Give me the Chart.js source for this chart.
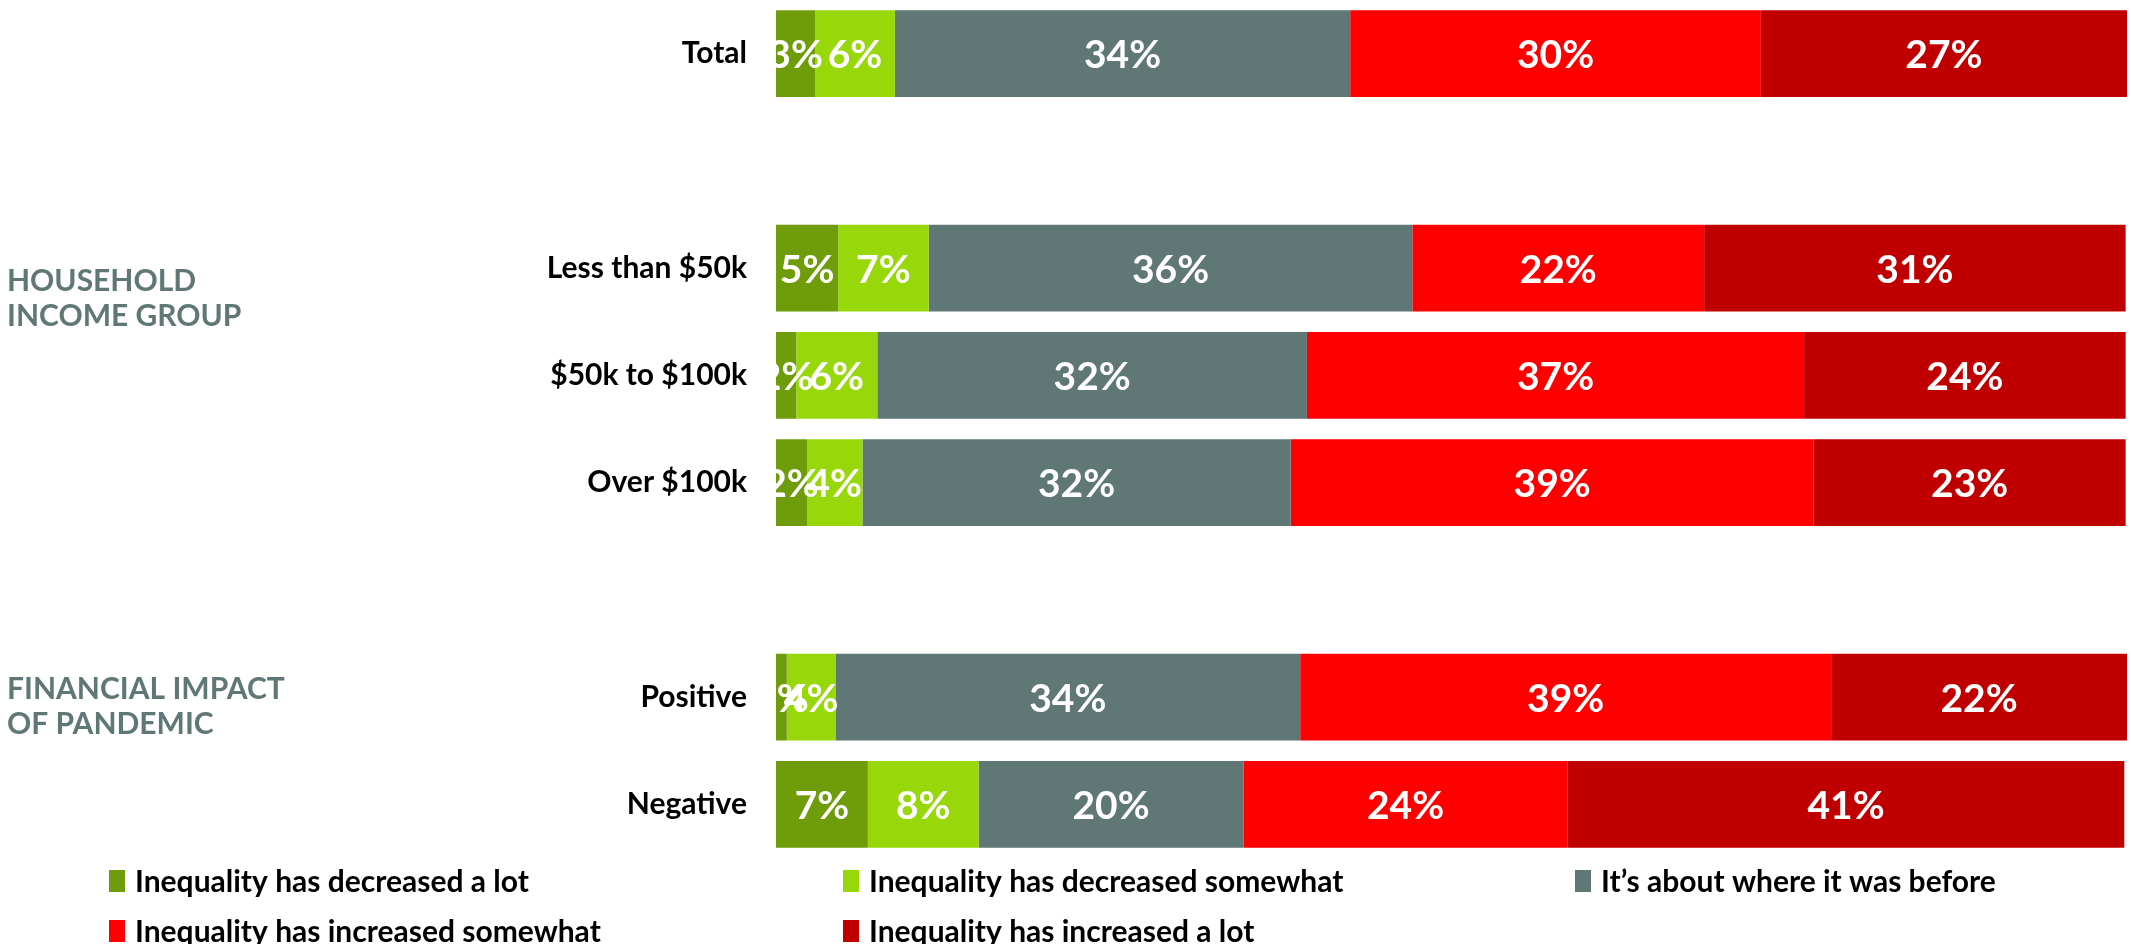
<!DOCTYPE html>
<html>
<head>
<meta charset="utf-8">
<script src="https://cdn.jsdelivr.net/npm/chart.js@4.4.1/dist/chart.umd.min.js"></script>
<style>
  html, body { margin: 0; padding: 0; background: #fff; }
  #wrap { width: 2131px; height: 944px; position: relative; }
</style>
</head>
<body>
<div id="wrap"><canvas id="chart" width="2131" height="944"></canvas></div>
<script>
// categories (blank rows separate the groups)
const categories = ['Total', '', 'Less than $50k', '$50k to $100k', 'Over $100k', '', 'Positive', 'Negative'];

// series values, percent
const decreasedLot       = [2.9, null, 4.6, 1.5, 2.3, null, 0.8, 6.8];
const decreasedSomewhat  = [5.9, null, 6.7, 6.0, 4.1, null, 3.6, 8.2];
const aboutSame          = [33.7, null, 35.8, 31.8, 31.7, null, 34.4, 19.6];
const increasedSomewhat  = [30.4, null, 21.6, 36.8, 38.7, null, 39.3, 24.0];
const increasedLot       = [27.1, null, 31.2, 23.8, 23.1, null, 21.9, 41.2];

const seriesNames = [
    'Inequality has decreased a lot',
    'Inequality has decreased somewhat',
    'It\u2019s about where it was before',
    'Inequality has increased somewhat',
    'Inequality has increased a lot'
];
const seriesColors = ['#6e9c0b', '#98d80a', '#5f7775', '#ff0000', '#c00000'];

const groupLabels = [
    { lines: ['HOUSEHOLD', 'INCOME GROUP'], y: 281 },
    { lines: ['FINANCIAL IMPACT', 'OF PANDEMIC'], y: 689 }
];

const FONT = 'Lato, "Open Sans", sans-serif';

// value labels inside the bars
const barLabels = {
    id: 'barLabels',
    afterDatasetsDraw(chart) {
        const ctx = chart.ctx;
        const area = chart.chartArea;
        ctx.save();
        ctx.beginPath();
        ctx.rect(area.left, area.top, area.right - area.left, area.bottom - area.top);
        ctx.clip();
        ctx.fillStyle = '#fff';
        ctx.font = 'bold 39px ' + FONT;
        ctx.textAlign = 'center';
        ctx.textBaseline = 'middle';
        chart.data.datasets.forEach((ds, i) => {
            chart.getDatasetMeta(i).data.forEach((bar, j) => {
                const v = ds.data[j];
                if (v == null) return;
                const cx = (bar.x + bar.base) / 2;
                ctx.fillText(Math.round(v) + '%', cx, bar.y + 2);
            });
        });
        ctx.restore();
    }
};

// group titles on the left and the legend at the bottom
const extras = {
    id: 'extras',
    afterDraw(chart) {
        const ctx = chart.ctx;
        ctx.save();
        ctx.fillStyle = '#5f7775';
        ctx.font = 'bold 30px ' + FONT;
        ctx.textAlign = 'left';
        ctx.textBaseline = 'middle';
        groupLabels.forEach(g => {
            g.lines.forEach((t, k) => ctx.fillText(t, 7, g.y + k * 35));
        });

        // legend
        const cols = [109, 843, 1575];
        const rows = [881, 931];
        ctx.font = 'bold 30px ' + FONT;
        seriesNames.forEach((name, i) => {
            const x = cols[i % 3];
            const y = rows[Math.floor(i / 3)];
            ctx.fillStyle = seriesColors[i];
            ctx.fillRect(x, y - 11, 16, 22);
            ctx.fillStyle = '#000';
            ctx.fillText(name, x + 26, y + 1);
        });
        ctx.restore();
    }
};

const datasets = [decreasedLot, decreasedSomewhat, aboutSame, increasedSomewhat, increasedLot]
    .map((d, i) => ({
        label: seriesNames[i],
        data: d,
        backgroundColor: seriesColors[i],
        borderWidth: 0,
        barPercentage: 0.81,
        categoryPercentage: 1
    }));

new Chart(document.getElementById('chart'), {
    type: 'bar',
    data: { labels: categories, datasets: datasets },
    options: {
        indexAxis: 'y',
        responsive: false,
        animation: false,
        layout: { padding: { top: 0, right: 4, bottom: 86, left: 0 } },
        plugins: {
            legend: { display: false },
            tooltip: { enabled: false }
        },
        scales: {
            x: {
                stacked: true,
                min: 0,
                max: 100,
                display: false
            },
            y: {
                stacked: true,
                grid: { display: false },
                border: { display: false },
                ticks: {
                    color: '#000',
                    padding: 21,
                    font: { family: FONT, size: 30, weight: 'bold' }
                },
                afterFit(scale) {
                    scale.width = 776;
                    scale.paddingTop = 0;
                    scale.paddingBottom = 0;
                }
            }
        }
    },
    plugins: [barLabels, extras]
});
</script>
</body>
</html>
